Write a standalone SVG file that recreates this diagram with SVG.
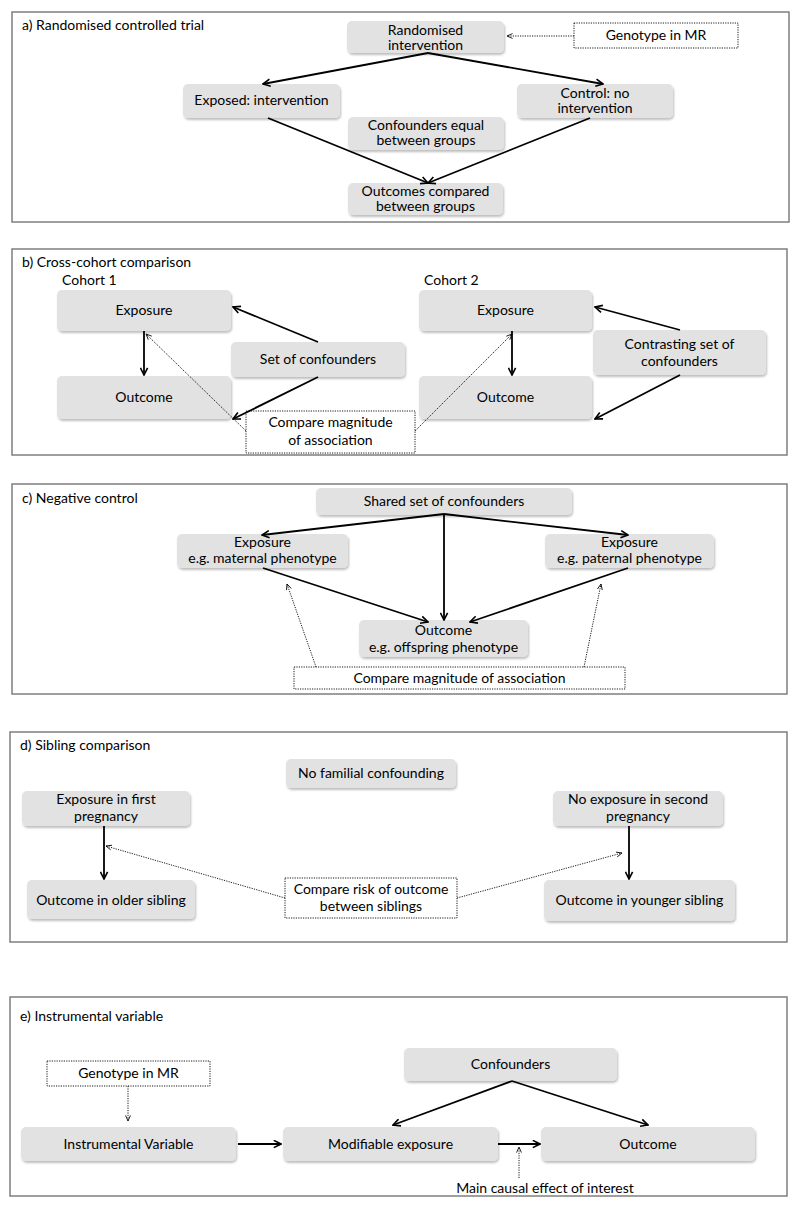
<svg xmlns="http://www.w3.org/2000/svg" width="800" height="1209" viewBox="0 0 800 1209">
<defs>
<style>
.panel{fill:#fff;stroke:#7f7f7f;stroke-width:1.5}
.box{fill:#e2e2e2;stroke:none;filter:url(#sh)}
.dbox{fill:#fff;stroke:#000;stroke-width:0.9;stroke-dasharray:1.2 1.2}
text{font-family:Lato,"Open Sans","Liberation Sans",sans-serif;font-size:14px;fill:#000}
.c{text-anchor:middle}
.a{fill:none;stroke:#000;stroke-width:1.8;marker-end:url(#ah)}
.d{fill:none;stroke:#000;stroke-width:0.9;stroke-dasharray:1.2 1.2;marker-end:url(#ahd)}
</style>
<filter id="sh" x="-5%" y="-10%" width="115%" height="140%">
<feDropShadow dx="1" dy="2" stdDeviation="1" flood-color="#000" flood-opacity="0.25"/>
</filter>
<marker id="ah" viewBox="0 0 10 10" refX="9" refY="5" markerWidth="9" markerHeight="9" orient="auto" markerUnits="userSpaceOnUse">
<path d="M1,1 L9,5 L1,9" fill="none" stroke="#000" stroke-width="1.8"/>
</marker>
<marker id="ahd" viewBox="0 0 10 10" refX="9" refY="5" markerWidth="7" markerHeight="7" orient="auto" markerUnits="userSpaceOnUse">
<path d="M1,1.5 L9,5 L1,8.5" fill="none" stroke="#000" stroke-width="1.2"/>
</marker>
</defs>
<rect width="800" height="1209" fill="#fff"/>

<!-- Panel a -->
<g id="panel-a">
<rect class="panel" x="12" y="12" width="777" height="210"/>
<text x="22" y="30">a) Randomised controlled trial</text>
</g>
<g id="a-rand"><rect class="box" x="347" y="21" width="157" height="32" rx="5"/><text class="c" x="425.5" y="35">Randomised</text><text class="c" x="425.5" y="50">intervention</text></g>
<g id="a-geno"><rect class="dbox" x="574" y="23" width="164" height="25"/><text class="c" x="656" y="40">Genotype in MR</text></g>
<g id="a-exp"><rect class="box" x="183" y="84" width="157" height="34" rx="5"/><text class="c" x="261.5" y="105">Exposed: intervention</text></g>
<g id="a-ctrl"><rect class="box" x="517" y="84" width="156" height="34" rx="5"/><text class="c" x="595" y="98">Control: no</text><text class="c" x="595" y="113">intervention</text></g>
<g id="a-conf"><rect class="box" x="348" y="117" width="156" height="33" rx="5"/><text class="c" x="426" y="130">Confounders equal</text><text class="c" x="426" y="145">between groups</text></g>
<g id="a-out"><rect class="box" x="348" y="183" width="155" height="32" rx="5"/><text class="c" x="425.5" y="196">Outcomes compared</text><text class="c" x="425.5" y="211">between groups</text></g>

<!-- Panel b -->
<g id="panel-b">
<rect class="panel" x="12" y="249" width="775" height="206"/>
<text x="22" y="267">b) Cross-cohort comparison</text>
<text x="62" y="285">Cohort 1</text>
<text x="424" y="285">Cohort 2</text>
</g>
<g id="b-exp1"><rect class="box" x="57" y="290" width="174" height="41" rx="5"/><text class="c" x="144" y="315">Exposure</text></g>
<g id="b-out1"><rect class="box" x="57" y="376" width="174" height="43" rx="5"/><text class="c" x="144" y="402">Outcome</text></g>
<g id="b-conf1"><rect class="box" x="231" y="342" width="174" height="35" rx="5"/><text class="c" x="318" y="364">Set of confounders</text></g>
<g id="b-cmp"><rect class="dbox" x="246" y="411" width="169" height="42"/><text class="c" x="330.5" y="427">Compare magnitude</text><text class="c" x="330.5" y="445">of association</text></g>
<g id="b-exp2"><rect class="box" x="419" y="290" width="173" height="41" rx="5"/><text class="c" x="505.5" y="315">Exposure</text></g>
<g id="b-out2"><rect class="box" x="419" y="376" width="173" height="43" rx="5"/><text class="c" x="505.5" y="402">Outcome</text></g>
<g id="b-conf2"><rect class="box" x="593" y="330" width="173" height="45" rx="5"/><text class="c" x="679.5" y="349">Contrasting set of</text><text class="c" x="679.5" y="366">confounders</text></g>

<!-- Panel c -->
<g id="panel-c">
<rect class="panel" x="12" y="484" width="775" height="210"/>
<text x="22" y="503">c) Negative control</text>
</g>
<g id="c-shared"><rect class="box" x="316" y="488" width="256" height="27" rx="5"/><text class="c" x="444" y="506">Shared set of confounders</text></g>
<g id="c-mat"><rect class="box" x="177" y="534" width="171" height="34" rx="5"/><text class="c" x="262.5" y="547">Exposure</text><text class="c" x="262.5" y="563">e.g. maternal phenotype</text></g>
<g id="c-pat"><rect class="box" x="545" y="534" width="169" height="34" rx="5"/><text class="c" x="629.5" y="547">Exposure</text><text class="c" x="629.5" y="563">e.g. paternal phenotype</text></g>
<g id="c-out"><rect class="box" x="359" y="620" width="169" height="37" rx="5"/><text class="c" x="443.5" y="635">Outcome</text><text class="c" x="443.5" y="652">e.g. offspring phenotype</text></g>
<g id="c-cmp"><rect class="dbox" x="294" y="667" width="331" height="22"/><text class="c" x="459.5" y="683">Compare magnitude of association</text></g>

<!-- Panel d -->
<g id="panel-d">
<rect class="panel" x="10" y="732" width="777" height="210"/>
<text x="20" y="750">d) Sibling comparison</text>
</g>
<g id="d-nofam"><rect class="box" x="286" y="759" width="170" height="29" rx="5"/><text class="c" x="371" y="778">No familial confounding</text></g>
<g id="d-exp1"><rect class="box" x="22" y="791" width="168" height="35" rx="5"/><text class="c" x="106" y="804">Exposure in first</text><text class="c" x="106" y="821">pregnancy</text></g>
<g id="d-exp2"><rect class="box" x="553" y="791" width="170" height="35" rx="5"/><text class="c" x="638" y="804">No exposure in second</text><text class="c" x="638" y="821">pregnancy</text></g>
<g id="d-out1"><rect class="box" x="27" y="880" width="168" height="39" rx="5"/><text class="c" x="111" y="905">Outcome in older sibling</text></g>
<g id="d-out2"><rect class="box" x="544" y="880" width="191" height="41" rx="5"/><text class="c" x="639.5" y="905">Outcome in  younger sibling</text></g>
<g id="d-cmp"><rect class="dbox" x="285" y="878" width="172" height="40"/><text class="c" x="371" y="894">Compare risk of outcome</text><text class="c" x="371" y="911">between siblings</text></g>

<!-- Panel e -->
<g id="panel-e">
<rect class="panel" x="10" y="997" width="777" height="199"/>
<text x="20" y="1021">e) Instrumental variable</text>
</g>
<g id="e-conf"><rect class="box" x="404" y="1048" width="213" height="33" rx="5"/><text class="c" x="510.5" y="1069">Confounders</text></g>
<g id="e-geno"><rect class="dbox" x="47" y="1061" width="163" height="25"/><text class="c" x="128.5" y="1078">Genotype in MR</text></g>
<g id="e-iv"><rect class="box" x="21" y="1127" width="215" height="34" rx="5"/><text class="c" x="128.5" y="1149">Instrumental Variable</text></g>
<g id="e-mod"><rect class="box" x="283" y="1127" width="215" height="34" rx="5"/><text class="c" x="390.5" y="1149">Modifiable exposure</text></g>
<g id="e-out"><rect class="box" x="541" y="1127" width="214" height="34" rx="5"/><text class="c" x="648" y="1149">Outcome</text></g>
<g id="e-main"><text class="c" x="545" y="1193">Main causal effect of interest</text></g>

<!-- Connectors -->
<g id="connectors">
<line class="a" x1="428" y1="53" x2="263" y2="84"/>
<line class="a" x1="428" y1="53" x2="603" y2="84"/>
<line class="a" x1="268" y1="118" x2="428" y2="183"/>
<line class="a" x1="590" y1="118" x2="428" y2="183"/>
<line class="d" x1="574" y1="36" x2="507" y2="36"/>

<line class="a" x1="144" y1="331" x2="144" y2="375"/>
<line class="a" x1="318" y1="342" x2="233" y2="307"/>
<line class="a" x1="318" y1="377" x2="233" y2="419"/>
<line class="d" x1="246" y1="431" x2="146" y2="334"/>
<line class="d" x1="415" y1="431" x2="512" y2="334"/>
<line class="a" x1="512" y1="331" x2="512" y2="375"/>
<line class="a" x1="680" y1="330" x2="595" y2="307"/>
<line class="a" x1="680" y1="375" x2="595" y2="419"/>

<line class="a" x1="444" y1="514" x2="262" y2="535"/>
<line class="a" x1="444" y1="514" x2="444" y2="620"/>
<line class="a" x1="444" y1="514" x2="628" y2="535"/>
<line class="a" x1="263" y1="568" x2="428" y2="622"/>
<line class="a" x1="628" y1="568" x2="470" y2="622"/>
<line class="d" x1="316" y1="667" x2="287" y2="584"/>
<line class="d" x1="584" y1="667" x2="601" y2="584"/>

<line class="a" x1="104" y1="826" x2="104" y2="879"/>
<line class="a" x1="629" y1="826" x2="629" y2="879"/>
<line class="d" x1="285" y1="898" x2="106" y2="846"/>
<line class="d" x1="457" y1="898" x2="622" y2="853"/>

<line class="d" x1="128" y1="1086" x2="128" y2="1121"/>
<line class="a" x1="238" y1="1144" x2="281" y2="1144"/>
<line class="a" x1="498" y1="1144" x2="540" y2="1144"/>
<line class="a" x1="512" y1="1081" x2="393" y2="1125"/>
<line class="a" x1="512" y1="1081" x2="648" y2="1125"/>
<line class="d" x1="519" y1="1178" x2="519" y2="1147"/>
</g>
</svg>
